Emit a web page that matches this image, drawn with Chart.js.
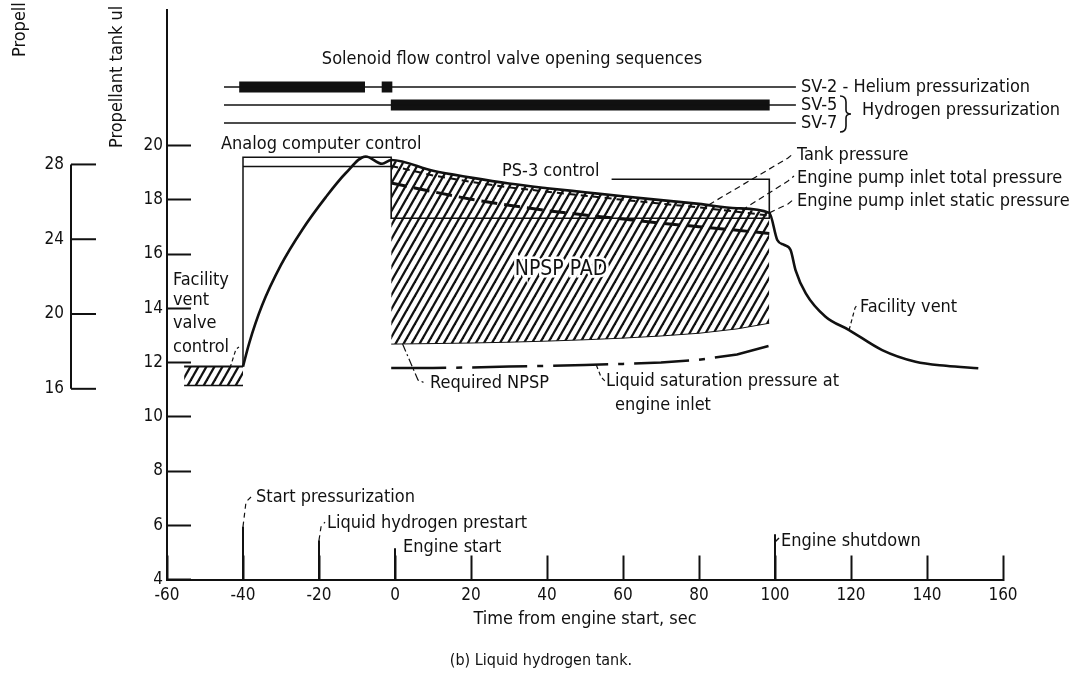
<!DOCTYPE html>
<html lang="en">
<head>
<meta charset="utf-8">
<title>Liquid hydrogen tank</title>
<script src="https://cdn.jsdelivr.net/npm/chart.js@4.4.1/dist/chart.umd.min.js"></script>
<style>
  html, body { margin: 0; padding: 0; background: #fff; }
  canvas { display: block; }
</style>
</head>
<body>
<canvas id="chartTanque" width="1086" height="677"></canvas>
<script>
// tanque_lh2.js - historia de presion del tanque de hidrogeno liquido
// tiempo desde arranque del motor (sec), presion en N/cm2 (eje secundario en psia)

// --- ejes
const xTicks = [-60, -40, -20, 0, 20, 40, 60, 80, 100, 120, 140, 160];
const yTicks = [4, 6, 8, 10, 12, 14, 16, 18, 20];
const psiaTicks = [16, 20, 24, 28];
const psiaPorNcm2 = 1.4504;

// --- banda de control de la valvula de venteo (antes de presurizar)
const ventBandTime = [-55.5, -40];
const ventBandLow = [11.15, 11.15];
const ventBandHigh = [11.85, 11.85];

// --- presion del tanque: presurizacion, operacion del motor, venteo tras apagado
const rampTime = [-40, -38.4, -35, -30, -24.4, -18.2, -13, -7.7, -3.4];
const rampPress = [11.85, 12.7, 14.1, 15.6, 16.9, 18.1, 18.98, 19.6, 19.33];
const runTime = [-1, 10, 20, 30, 40, 50, 60, 70, 80, 90, 98.5];
const runTankPress = [19.47, 19.07, 18.82, 18.6, 18.43, 18.28, 18.13, 17.99, 17.85, 17.69, 17.52];
const runTotalPress = [19.25, 18.9, 18.66, 18.46, 18.3, 18.15, 18.0, 17.86, 17.72, 17.56, 17.42];
const runStaticPress = [18.62, 18.3, 18.02, 17.8, 17.6, 17.44, 17.29, 17.14, 17.01, 16.88, 16.76];
const npspFloor = [12.68, 12.7, 12.72, 12.75, 12.79, 12.84, 12.9, 12.98, 13.08, 13.24, 13.45];
const satPress = [11.8, 11.8, 11.82, 11.85, 11.88, 11.91, 11.95, 12.0, 12.1, 12.3, 12.62];
const ventTime = [100.6, 102.4, 104.1, 105.4, 108.1, 113.3, 119.5, 128.2, 137, 145, 153.5];
const ventPress = [16.52, 16.34, 16.15, 15.41, 14.55, 13.69, 13.2, 12.46, 12.03, 11.88, 11.79];

// --- bandas de control
const analogTime = [-40, -1];
const analogBand = [19.23, 19.57];
const ps3Time = [-1, 98.5];
const ps3Band = [17.32, 18.76];
const ps3TopFrom = 57;

// --- valvulas solenoide (periodos abiertos, sec)
const valveNames = ['SV-2', 'SV-5', 'SV-7'];
const valveSpan = [-45, 105.5];
const valveOpen = [
    [[-41, -7.9], [-3.5, -0.7]],
    [[-1.1, 98.6]],
    []
];

// --- eventos
const eventTime = [-40, -20, 0, 100];
const eventTop = [5.95, 5.45, 5.15, 5.67];

const FUENTE = '"Liberation Sans Narrow", "DejaVu Sans Condensed", "Arial Narrow", sans-serif';
const NEGRO = '#111';
Chart.defaults.font.family = FUENTE;
Chart.defaults.color = NEGRO;

function crearTrama() {
    const c = document.createElement('canvas');
    c.width = 8; c.height = 14;
    const g = c.getContext('2d');
    g.strokeStyle = NEGRO;
    g.lineWidth = 2.3;
    [-8, 0, 8].forEach(dx => {
        g.beginPath();
        g.moveTo(dx - 8, 28);
        g.lineTo(dx + 16, -14);
        g.stroke();
    });
    return g.createPattern(c, 'repeat');
}

const xy = (xs, ys) => xs.map((t, i) => ({ x: t, y: ys[i] }));

function texto(ctx, s, x, y, opts = {}) {
    ctx.font = `${opts.size || 18}px ${FUENTE}`;
    ctx.textAlign = opts.align || 'left';
    ctx.textBaseline = 'middle';
    if (opts.halo) {
        ctx.lineWidth = 5;
        ctx.strokeStyle = '#fff';
        ctx.strokeText(s, x, y);
    }
    ctx.fillStyle = NEGRO;
    ctx.fillText(s, x, y);
}

function guia(ctx, pts, dash = [5, 4], w = 1.2) {
    ctx.beginPath();
    ctx.setLineDash(dash);
    ctx.lineWidth = w;
    ctx.strokeStyle = NEGRO;
    pts.forEach(([a, b], i) => (i ? ctx.lineTo(a, b) : ctx.moveTo(a, b)));
    ctx.stroke();
    ctx.setLineDash([]);
}

// textos, guias y eje secundario en psia
const anotaciones = {
    id: 'anotaciones',
    afterDraw(chart) {
        const { ctx, scales: { x, y, y2, yv } } = chart;
        const px = t => x.getPixelForValue(t);
        const py = v => y.getPixelForValue(v);
        ctx.save();

        // eje secundario
        const ax = 71;
        guia(ctx, [[ax, y2.getPixelForValue(psiaTicks[0])], [ax, y2.getPixelForValue(psiaTicks[psiaTicks.length - 1])]], [], 2);
        psiaTicks.forEach(s => {
            const yy = y2.getPixelForValue(s);
            guia(ctx, [[ax, yy], [ax + 25, yy]], [], 2);
            texto(ctx, String(s), ax - 7, yy, { align: 'right', size: 17 });
        });

        // titulos verticales (recortados arriba como en el original)
        [['Propellant tank ul', 117, 148], ['Propell', 20, 57]].forEach(([s, tx, ty]) => {
            ctx.save();
            ctx.translate(tx, ty);
            ctx.rotate(-Math.PI / 2);
            texto(ctx, s, 0, 0, { size: 18 });
            ctx.restore();
        });

        // valvulas
        texto(ctx, 'Solenoid flow control valve opening sequences', 512, 59, { align: 'center' });
        const lx = px(valveSpan[1]) + 5;
        texto(ctx, valveNames[0] + ' - Helium pressurization', lx, yv.getPixelForValue(0));
        texto(ctx, valveNames[1], lx, yv.getPixelForValue(1));
        texto(ctx, valveNames[2], lx, yv.getPixelForValue(2));
        const b1 = yv.getPixelForValue(1) - 9, b2 = yv.getPixelForValue(2) + 9, bm = (b1 + b2) / 2;
        ctx.beginPath();
        ctx.lineWidth = 1.6;
        ctx.moveTo(840, b1);
        ctx.quadraticCurveTo(846, b1, 846, b1 + 6);
        ctx.lineTo(846, bm - 4);
        ctx.quadraticCurveTo(846, bm, 851, bm);
        ctx.quadraticCurveTo(846, bm, 846, bm + 4);
        ctx.lineTo(846, b2 - 6);
        ctx.quadraticCurveTo(846, b2, 840, b2);
        ctx.stroke();
        texto(ctx, 'Hydrogen pressurization', 862, bm - 4);

        // bandas de control
        texto(ctx, 'Analog computer control', 221, 144);
        texto(ctx, 'PS-3 control', 502, 171);
        texto(ctx, 'NPSP PAD', 561, 270, { align: 'center', size: 21, halo: true });

        // curvas de presion
        const etiquetas = [
            ['Tank pressure', 155, 82.6, 17.82],
            ['Engine pump inlet total pressure', 178, 91.3, 17.62],
            ['Engine pump inlet static pressure', 201, 98.5, 17.52]
        ];
        etiquetas.forEach(([s, ty, t, v]) => {
            guia(ctx, [[px(t), py(v)], [788, ty + 3], [794, ty - 2]], [6, 4], 1.2);
            texto(ctx, s, 797, ty);
        });

        // venteo
        ['Facility', 'vent', 'valve', 'control'].forEach((s, i) => texto(ctx, s, 173, [280, 300, 323, 347][i]));
        guia(ctx, [[230, 368], [236, 349], [239, 347]], [4, 3], 1.2);
        texto(ctx, 'Facility vent', 860, 307);
        guia(ctx, [[px(119.5), py(13.2)], [855, 308], [858, 304]], [4, 3], 1.2);

        // NPSP y saturacion
        texto(ctx, 'Required NPSP', 430, 383);
        guia(ctx, [[px(2), py(12.68)], [418, 380], [425, 383]], [8, 3, 2, 3], 1.2);
        texto(ctx, 'Liquid saturation pressure at', 606, 381);
        texto(ctx, 'engine inlet', 615, 405);
        guia(ctx, [[px(53), py(11.9)], [601, 377], [605, 381]], [4, 3], 1.2);

        // eventos
        guia(ctx, [[px(-40), py(eventTop[0])], [246, 502], [251, 497]], [5, 4], 1.2);
        texto(ctx, 'Start pressurization', 256, 497);
        guia(ctx, [[px(-20), py(eventTop[1])], [321, 527], [325, 522]], [5, 4], 1.2);
        texto(ctx, 'Liquid hydrogen prestart', 327, 523);
        texto(ctx, 'Engine start', 403, 547);
        guia(ctx, [[px(100), 542], [779, 538]], [], 1.4);
        texto(ctx, 'Engine shutdown', 781, 541);

        // pie de figura
        texto(ctx, '(b) Liquid hydrogen tank.', 541, 661, { align: 'center', size: 16 });

        ctx.restore();
    }
};

function renderizarGrafico() {
    const trama = crearTrama();
    const base = { type: 'line', pointRadius: 0, borderColor: NEGRO, backgroundColor: 'transparent', fill: false, tension: 0, order: 1 };

    const evento = eventTime.flatMap((t, i) => [{ x: t, y: 4 }, { x: t, y: eventTop[i] }, { x: t, y: null }]);
    const ps3 = [
        { x: ps3Time[0], y: runTankPress[0] }, { x: ps3Time[0], y: ps3Band[0] },
        { x: ps3Time[1], y: ps3Band[0] }, { x: ps3Time[1], y: ps3Band[1] }, { x: ps3TopFrom, y: ps3Band[1] }
    ];
    const analog = [
        { x: analogTime[0], y: ventBandHigh[1] }, { x: analogTime[0], y: analogBand[1] },
        { x: analogTime[1], y: analogBand[1] }, { x: analogTime[1], y: analogBand[0] },
        { x: analogTime[0], y: analogBand[0] }
    ];

    const valvulas = [];
    valveNames.forEach((n, i) => {
        valvulas.push({ ...base, label: n, yAxisID: 'yv', borderWidth: 1.4,
            data: valveSpan.map(t => ({ x: t, y: i })) });
        valvulas.push({ ...base, label: n + ' open', yAxisID: 'yv', borderWidth: 11, borderCapStyle: 'butt',
            data: valveOpen[i].flatMap(([a, b]) => [{ x: a, y: i }, { x: b, y: i }, { x: b, y: null }]) });
    });

    new Chart(document.getElementById('chartTanque').getContext('2d'), {
        data: {
            datasets: [
                { ...base, label: 'Facility vent valve control', data: xy(ventBandTime, ventBandHigh), borderWidth: 2, fill: '+1', backgroundColor: trama, order: 5 },
                { ...base, label: 'vent band low', data: xy(ventBandTime, ventBandLow), borderWidth: 1.5, order: 5 },
                { ...base, label: 'NPSP PAD', data: xy(runTime, runTankPress), borderWidth: 0, fill: '+1', backgroundColor: trama, order: 5 },
                { ...base, label: 'NPSP floor', data: xy(runTime, npspFloor), borderWidth: 1, order: 5 },
                { ...base, label: 'PS-3 control', data: ps3, borderWidth: 1.6 },
                { ...base, label: 'Analog computer control', data: analog, borderWidth: 1.5 },
                { ...base, label: 'Liquid saturation pressure', data: xy(runTime, satPress), borderWidth: 2.5, borderDash: [55, 10, 6, 10] },
                { ...base, label: 'Engine pump inlet static pressure', data: xy(runTime, runStaticPress), borderWidth: 3, borderDash: [16, 7] },
                { ...base, label: 'Engine pump inlet total pressure', data: xy(runTime, runTotalPress), borderWidth: 2, borderDash: [7, 5] },
                { ...base, label: 'Tank pressure', borderWidth: 2.6, cubicInterpolationMode: 'monotone',
                  data: xy(rampTime.concat(runTime, ventTime), rampPress.concat(runTankPress, ventPress)) },
                { ...base, label: 'events', data: evento, borderWidth: 2 },
                ...valvulas
            ]
        },
        options: {
            responsive: false,
            animation: false,
            devicePixelRatio: 1,
            layout: { padding: { top: 10, right: 83, left: 0, bottom: 0 } },
            plugins: {
                legend: { display: false },
                tooltip: { enabled: false }
            },
            scales: {
                x: {
                    type: 'linear', min: -60, max: 160,
                    afterBuildTicks: s => { s.ticks = xTicks.map(v => ({ value: v })); },
                    afterFit: s => { s.height = 97.5; s.paddingLeft = 0; s.paddingRight = 0; },
                    ticks: { callback: v => String(v), padding: 30, autoSkip: false, maxRotation: 0, font: { size: 17 }, color: NEGRO },
                    grid: { drawOnChartArea: false, tickLength: -24, tickWidth: 2, tickColor: NEGRO },
                    border: { color: NEGRO, width: 2 },
                    title: { display: true, text: 'Time from engine start, sec', font: { size: 18 }, padding: { top: 0, bottom: 47 }, color: NEGRO }
                },
                y: {
                    type: 'linear', min: 4, max: 25,
                    afterBuildTicks: s => { s.ticks = yTicks.map(v => ({ value: v })); },
                    afterFit: s => { s.width = 167; s.paddingTop = 0; s.paddingBottom = 0; },
                    ticks: { callback: v => String(v), padding: 28, font: { size: 17 }, color: NEGRO },
                    grid: { drawOnChartArea: false, tickLength: -24, tickWidth: 2, tickColor: NEGRO },
                    border: { color: NEGRO, width: 2 }
                },
                y2: { type: 'linear', display: false, min: 4 * psiaPorNcm2, max: 25 * psiaPorNcm2 },
                yv: { type: 'linear', display: false, reverse: true, min: -4.28, max: 27.36 }
            }
        },
        plugins: [anotaciones]
    });
}

renderizarGrafico();
</script>
</body>
</html>
